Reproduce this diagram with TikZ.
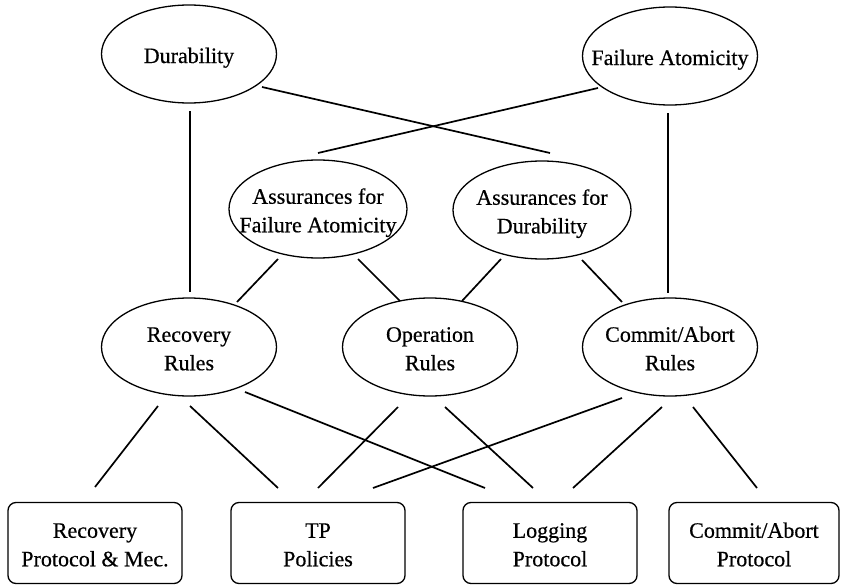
\documentclass[tikz,border=0pt]{standalone}
\usepackage{fontspec}
\setmainfont[FakeBold=0.5]{Liberation Serif}
\usetikzlibrary{shapes.geometric}
\newcommand\lbl[1]{\raisebox{-8.5pt}[0pt][0pt]{\makebox[0pt]{\begin{tabular}{@{}c@{}}#1\end{tabular}}}}
\begin{document}
\begin{tikzpicture}[x=1pt,y=-1pt,
  every node/.style={font=\fontsize{22}{28.5}\selectfont, inner sep=0pt},
  oval/.style={ellipse, draw, line width=1.3pt, minimum width=175pt, minimum height=98pt},
  rbox/.style={draw, rounded corners=8pt, line width=1.3pt, minimum width=174pt, minimum height=81pt},
  link/.style={line width=1.7pt}]
\useasboundingbox (0,0) rectangle (841,586);
% ellipses
\node[oval] (dur) at (189,54) {\lbl{Durability}};
\node[oval] (fa) at (670,56) {\lbl{Failure Atomicity}};
\node[oval, minimum width=178pt] (afa) at (318,209) {\lbl{Assurances for\\Failure Atomicity}};
\node[oval, minimum width=178pt] (ad) at (542,210) {\lbl{Assurances for\\Durability}};
\node[oval] (rr) at (189,347) {\lbl{Recovery\\Rules}};
\node[oval] (or) at (430,347) {\lbl{Operation\\Rules}};
\node[oval] (cr) at (670,347) {\lbl{Commit/Abort\\Rules}};
% boxes
\node[rbox] (rp) at (95,543) {\lbl{Recovery\\Protocol \& Mec.}};
\node[rbox] (tp) at (318,543) {\lbl{TP\\Policies}};
\node[rbox] (lp) at (550,543) {\lbl{Logging\\Protocol}};
\node[rbox, minimum width=170pt] (cp) at (754,543) {\lbl{Commit/Abort\\Protocol}};
% connector end points (lines stop short of the shapes)
\coordinate (dur-s) at (190,111);  \coordinate (rr-n1) at (190,292);
\coordinate (dur-se) at (262,87);  \coordinate (ad-n1) at (550,153);
\coordinate (fa-sw) at (598,88);   \coordinate (afa-n1) at (318,153);
\coordinate (fa-s) at (668,113);   \coordinate (cr-n1) at (668,293);
\coordinate (afa-s1) at (278,259); \coordinate (rr-n2) at (237,302);
\coordinate (afa-s2) at (358,259); \coordinate (or-n1) at (400,301);
\coordinate (ad-s1) at (501,259);  \coordinate (or-n2) at (462,301);
\coordinate (ad-s2) at (582,260);  \coordinate (cr-n2) at (622,302);
\coordinate (rr-s1) at (158,406);  \coordinate (rp-n1) at (95,487);
\coordinate (rr-s2) at (190,406);  \coordinate (tp-n1) at (278,488);
\coordinate (rr-s3) at (245,392);  \coordinate (lp-n1) at (485,488);
\coordinate (or-s1) at (398,407);  \coordinate (tp-n2) at (318,488);
\coordinate (or-s2) at (445,407);  \coordinate (lp-n2) at (533,488);
\coordinate (cr-s1) at (622,398);  \coordinate (tp-n3) at (373,488);
\coordinate (cr-s2) at (662,407);  \coordinate (lp-n3) at (573,488);
\coordinate (cr-s3) at (693,407);  \coordinate (cp-n1) at (757,488);
% connectors
\draw[link] (dur-s) -- (rr-n1);
\draw[link] (dur-se) -- (ad-n1);
\draw[link] (fa-sw) -- (afa-n1);
\draw[link] (fa-s) -- (cr-n1);
\draw[link] (afa-s1) -- (rr-n2);
\draw[link] (afa-s2) -- (or-n1);
\draw[link] (ad-s1) -- (or-n2);
\draw[link] (ad-s2) -- (cr-n2);
\draw[link] (rr-s1) -- (rp-n1);
\draw[link] (rr-s2) -- (tp-n1);
\draw[link] (rr-s3) -- (lp-n1);
\draw[link] (or-s1) -- (tp-n2);
\draw[link] (or-s2) -- (lp-n2);
\draw[link] (cr-s1) -- (tp-n3);
\draw[link] (cr-s2) -- (lp-n3);
\draw[link] (cr-s3) -- (cp-n1);
\end{tikzpicture}
\end{document}
